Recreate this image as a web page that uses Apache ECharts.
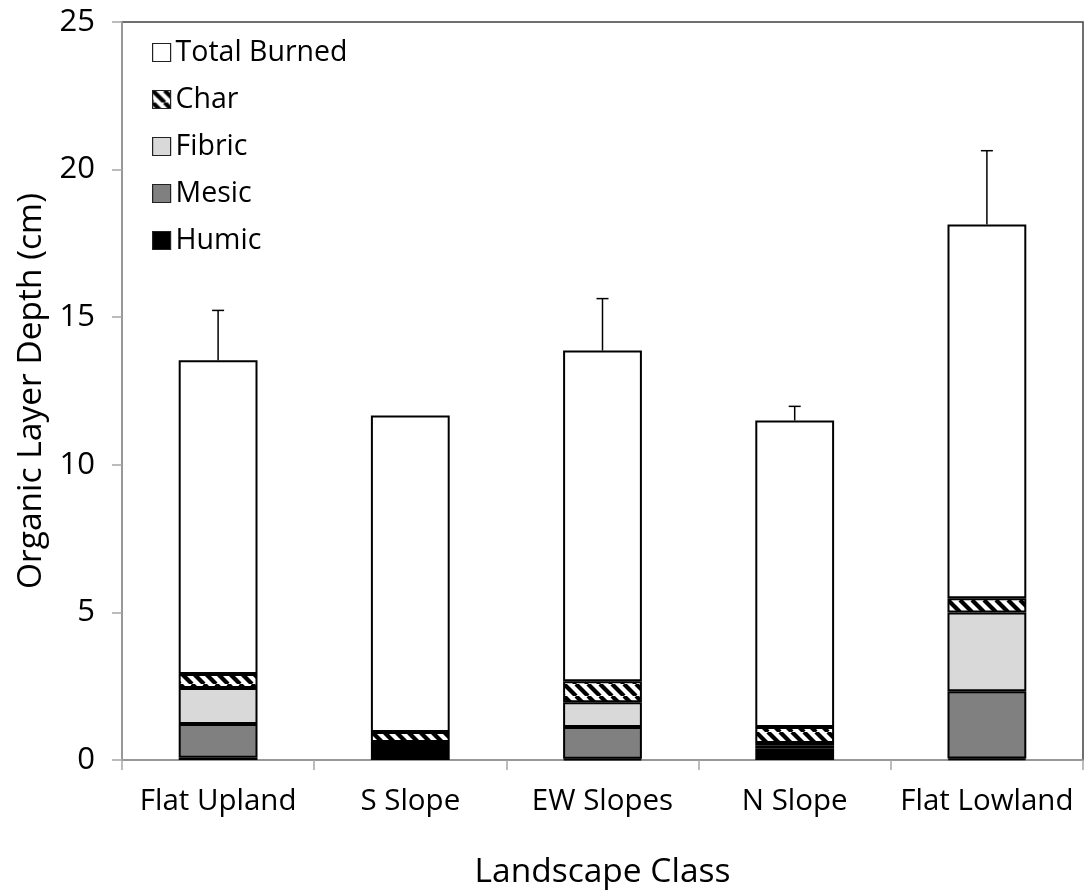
<!DOCTYPE html>
<html>
<head>
<meta charset="utf-8">
<script src="https://cdn.jsdelivr.net/npm/echarts@6/dist/echarts.min.js"></script>
<style>
  html, body { margin: 0; padding: 0; background: #fff; }
  #chart { width: 1084px; height: 890px; }
</style>
</head>
<body>
<div id="chart"></div>
<script>
// Organic layer depth by landscape class (cm), stacked from the bottom up
const categories = ['Flat Upland', 'S Slope', 'EW Slopes', 'N Slope', 'Flat Lowland'];
const humic       = [0.08, 0.61, 0.04, 0.38, 0.05];
const mesic       = [1.14, null, 1.08, 0.10, 2.28];
const fibric      = [1.22, null, 0.84, 0.10, 2.67];
const charLayer   = [0.47, 0.34, 0.71, 0.54, 0.48];
const totalBurned = [10.63, 10.72, 11.20, 10.38, 12.66];
// Upper error on the full column height
const errorUp     = [1.69, 0, 1.76, 0.48, 2.50];
const yTicks = { min: 0, max: 25, interval: 5 };

const FONT = '"Open Sans", sans-serif';

// Diagonal black/white hatch used for the char layer
function hatchPattern() {
  const s = 12;
  const c = document.createElement('canvas');
  c.width = s; c.height = s;
  const g = c.getContext('2d');
  g.fillStyle = '#fff';
  g.fillRect(0, 0, s, s);
  g.strokeStyle = '#000';
  g.lineWidth = 4.2;
  for (let k = -1; k <= 1; k++) {
    g.beginPath();
    g.moveTo(k * s, 0);
    g.lineTo(k * s + s, s);
    g.stroke();
  }
  return c;
}
const hatch = { image: hatchPattern(), repeat: 'repeat' };

const columnTop = categories.map((_, i) =>
  [humic, mesic, fibric, charLayer, totalBurned].reduce((acc, arr) => acc + (arr[i] || 0), 0));

function barSeries(name, data, color) {
  return {
    name, type: 'bar', stack: 'depth', data,
    barWidth: '41%',
    itemStyle: { color, borderColor: '#000', borderWidth: 2 },
    emphasis: { disabled: true },
    animation: false
  };
}

const chart = echarts.init(document.getElementById('chart'));
chart.setOption({
  animation: false,
  grid: {
    left: 122, top: 22, right: 1, bottom: 130,
    containLabel: false,
    outerBoundsMode: 'none',
    show: true, borderColor: '#404040', borderWidth: 1.5, backgroundColor: 'transparent'
  },
  legend: {
    orient: 'vertical',
    left: 147, top: 33,
    itemWidth: 18, itemHeight: 18,
    itemGap: 18,
    icon: 'rect',
    data: ['Total Burned', 'Char', 'Fibric', 'Mesic', 'Humic'],
    itemStyle: { borderWidth: 1.2, borderColor: '#222' },
    textStyle: { fontFamily: FONT, fontSize: 28.5, color: '#000', padding: [0, 0, 0, 0] }
  },
  xAxis: {
    type: 'category',
    data: categories,
    name: 'Landscape Class',
    nameLocation: 'middle',
    nameGap: 95,
    nameTextStyle: { fontFamily: FONT, fontSize: 33.5, color: '#000' },
    axisLine: { lineStyle: { color: '#a6a6a6', width: 1.5 } },
    axisTick: { show: true, length: 10, lineStyle: { color: '#a6a6a6', width: 1.5 } },
    axisLabel: { interval: 0, fontFamily: FONT, fontSize: 29.5, color: '#000', margin: 27 }
  },
  yAxis: {
    type: 'value',
    min: yTicks.min, max: yTicks.max, interval: yTicks.interval,
    name: 'Organic Layer Depth (cm)',
    nameLocation: 'middle',
    nameGap: 74,
    nameTextStyle: { fontFamily: FONT, fontSize: 33.5, color: '#000' },
    axisLine: { show: true, lineStyle: { color: '#a6a6a6', width: 1.5 } },
    axisTick: { show: true, length: 10, lineStyle: { color: '#a6a6a6', width: 1.5 } },
    splitLine: { show: false },
    axisLabel: { fontFamily: FONT, fontSize: 31, color: '#000', margin: 27 }
  },
  series: [
    barSeries('Humic', humic, '#000000'),
    barSeries('Mesic', mesic, '#808080'),
    barSeries('Fibric', fibric, '#d9d9d9'),
    barSeries('Char', charLayer, hatch),
    barSeries('Total Burned', totalBurned, '#ffffff'),
    {
      name: 'error', type: 'custom',
      data: categories.map((_, i) => [i, columnTop[i], errorUp[i]]),
      z: 5,
      renderItem: function (params, api) {
        const err = api.value(2);
        if (!err) return null;
        const x = api.value(0);
        const base = api.coord([x, api.value(1)]);
        const tip = api.coord([x, api.value(1) + err]);
        const cap = 6;
        return {
          type: 'group',
          children: [
            { type: 'line', shape: { x1: base[0], y1: base[1], x2: tip[0], y2: tip[1] },
              style: { stroke: '#000', lineWidth: 1.5 } },
            { type: 'line', shape: { x1: tip[0] - cap, y1: tip[1], x2: tip[0] + cap, y2: tip[1] },
              style: { stroke: '#000', lineWidth: 1.5 } }
          ]
        };
      },
      animation: false
    }
  ]
});
</script>
</body>
</html>
